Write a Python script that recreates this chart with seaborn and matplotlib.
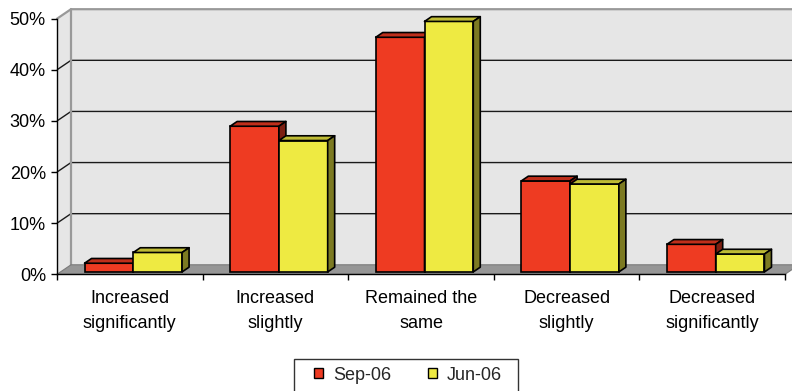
import matplotlib
matplotlib.use("Agg")
import matplotlib.pyplot as plt
from matplotlib.patches import Polygon, Rectangle, Patch
from matplotlib.ticker import FuncFormatter
import matplotlib.colors as mcolors
import numpy as np
import pandas as pd
import seaborn as sns

# Survey answers per category (percent of respondents)
categories = ["Increased\nsignificantly", "Increased\nslightly", "Remained the\nsame",
              "Decreased\nslightly", "Decreased\nsignificantly"]
series = ["Sep-06", "Jun-06"]
sep_06 = [1.7, 28.5, 45.9, 17.8, 5.4]
jun_06 = [3.8, 25.7, 49.0, 17.2, 3.5]
y_ticks = [0, 10, 20, 30, 40, 50]

colors = {"Sep-06": "#ee3b22", "Jun-06": "#eeea42"}

sns.set_theme(style="white")
plt.rcParams["font.family"] = ["Liberation Sans", "DejaVu Sans"]
FS = 13
LABEL_SPACING = 1.65

df = pd.DataFrame({
    "category": categories * 2,
    "value": sep_06 + jun_06,
    "series": [series[0]] * len(sep_06) + [series[1]] * len(jun_06),
})

W, H, DPI = 792, 391, 100
fig = plt.figure(figsize=(W / DPI, H / DPI), dpi=DPI)
fig.patch.set_facecolor("white")
# front plane of the pseudo-3D plot
left_px, right_px, zero_px, top_px = 57, 785, 274.3, 18.7
ax = fig.add_axes([left_px / W, (H - zero_px) / H,
                   (right_px - left_px) / W, (zero_px - top_px) / H])

sns.barplot(data=df, x="category", y="value", hue="series", palette=colors,
            width=0.67, saturation=1, edgecolor="black", linewidth=1.2,
            ax=ax, legend=False)

ncat = len(categories)
ax.set_xlim(-0.5, ncat - 0.5)
ax.set_ylim(y_ticks[0], y_ticks[-1])
ax.set_facecolor("none")

# depth vector of the floor, in data units
px_per_x = (right_px - left_px) / ncat
px_per_y = (zero_px - top_px) / (y_ticks[-1] - y_ticks[0])
Dx, Dy = 14 / px_per_x, 9.5 / px_per_y
x0a, x1a = -0.5, ncat - 0.5
ytop = y_ticks[-1]

wall_c = "#e6e6e6"
edge_c = "#999999"
# back wall
ax.add_patch(Rectangle((x0a + Dx, Dy), (x1a - x0a) + 0.2, ytop, facecolor=wall_c,
                       edgecolor="none", zorder=0.3, clip_on=False))
# side wall
ax.add_patch(Polygon([(x0a, 0), (x0a, ytop), (x0a + Dx, ytop + Dy), (x0a + Dx, Dy)],
                     closed=True, facecolor=wall_c, edgecolor="none", zorder=0.3,
                     clip_on=False))
# gridlines across the side wall and the back wall
for v in y_ticks[1:-1]:
    ax.plot([x0a, x0a + Dx, x1a + Dx + 0.2], [v, v + Dy, v + Dy], color="#1a1a1a",
            lw=1.0, zorder=0.4, clip_on=False, solid_capstyle="butt")
# wall borders
ax.plot([x0a, x0a + Dx, x1a + Dx + 0.2], [ytop, ytop + Dy, ytop + Dy], color=edge_c,
        lw=1.6, zorder=0.45, clip_on=False)
ax.plot([x0a + Dx, x0a + Dx], [Dy, ytop + Dy], color=edge_c, lw=1.6, zorder=0.45,
        clip_on=False)
# floor
ax.add_patch(Polygon([(x0a, 0), (x1a, 0), (x1a + Dx, Dy), (x0a + Dx, Dy)], closed=True,
                     facecolor="#969696", edgecolor="#7a7a7a", lw=0.8, zorder=0.5,
                     clip_on=False))


def shade(c, f):
    r, g, b = mcolors.to_rgb(c)
    return (r * f, g * f, b * f)


# turn the flat bars into boxes sitting in the middle of the floor depth
bars = sorted([p for p in ax.patches if isinstance(p, Rectangle) and p.get_width() < 1],
              key=lambda p: p.get_x())
bx, by = 0.5 * Dx, 0.5 * Dy
for i, p in enumerate(bars):
    p.set_x(p.get_x() + 0.25 * Dx)
    p.set_y(p.get_y() + 0.25 * Dy)
    z = 2 + i * 0.01
    p.set_zorder(z)
    fc = p.get_facecolor()
    xa, ya = p.get_x(), p.get_y()
    xb, yb = xa + p.get_width(), ya + p.get_height()
    ax.add_patch(Polygon([(xa, yb), (xb, yb), (xb + bx, yb + by), (xa + bx, yb + by)],
                         closed=True, facecolor=shade(fc, 0.8), edgecolor="black",
                         lw=1.2, zorder=z, clip_on=False, joinstyle="round"))
    ax.add_patch(Polygon([(xb, ya), (xb, yb), (xb + bx, yb + by), (xb + bx, ya + by)],
                         closed=True, facecolor=shade(fc, 0.52), edgecolor="black",
                         lw=1.2, zorder=z, clip_on=False, joinstyle="round"))

# axes
for s in ["top", "right"]:
    ax.spines[s].set_visible(False)
for s in ["left", "bottom"]:
    ax.spines[s].set_color("black")
    ax.spines[s].set_linewidth(1.0)
    ax.spines[s].set_zorder(3)

ax.set_yticks(y_ticks)
ax.yaxis.set_major_formatter(FuncFormatter(lambda v, _: f"{v:.0f}%"))
ax.tick_params(axis="y", length=4, width=1, color="black", pad=4, labelsize=FS,
               labelcolor="black", left=True)
ax.set_xticks(np.arange(ncat))
ax.set_xticklabels(categories, linespacing=LABEL_SPACING)
ax.set_xticks(np.arange(-0.5, ncat, 1), minor=True)
ax.tick_params(axis="x", which="major", length=0, pad=11, labelsize=FS,
               labelcolor="black")
ax.tick_params(axis="x", which="minor", length=4.5, width=1, color="black",
               bottom=True)
ax.set_xlabel("")
ax.set_ylabel("")
ax.grid(False)

# legend below the plot
handles = [Patch(facecolor=colors[s], edgecolor="black", lw=1.0) for s in series]
fig.legend(handles, series, loc="center", bbox_to_anchor=(408 / W, 1 - 375 / H),
           ncol=2, frameon=False, fontsize=FS, handlelength=0.5, handleheight=0.5,
           handletextpad=0.55, columnspacing=2.0)
fig.patches.append(Rectangle((294 / W, 1 - 392 / H), (518 - 294) / W, (392 - 358.7) / H,
                             transform=fig.transFigure, facecolor="none",
                             edgecolor="#333333", lw=1.0))

fig.canvas.draw()
for tick in ax.xaxis.get_major_ticks():
    tick.label1.set_linespacing(LABEL_SPACING)

fig.savefig("out.png", dpi=DPI)
